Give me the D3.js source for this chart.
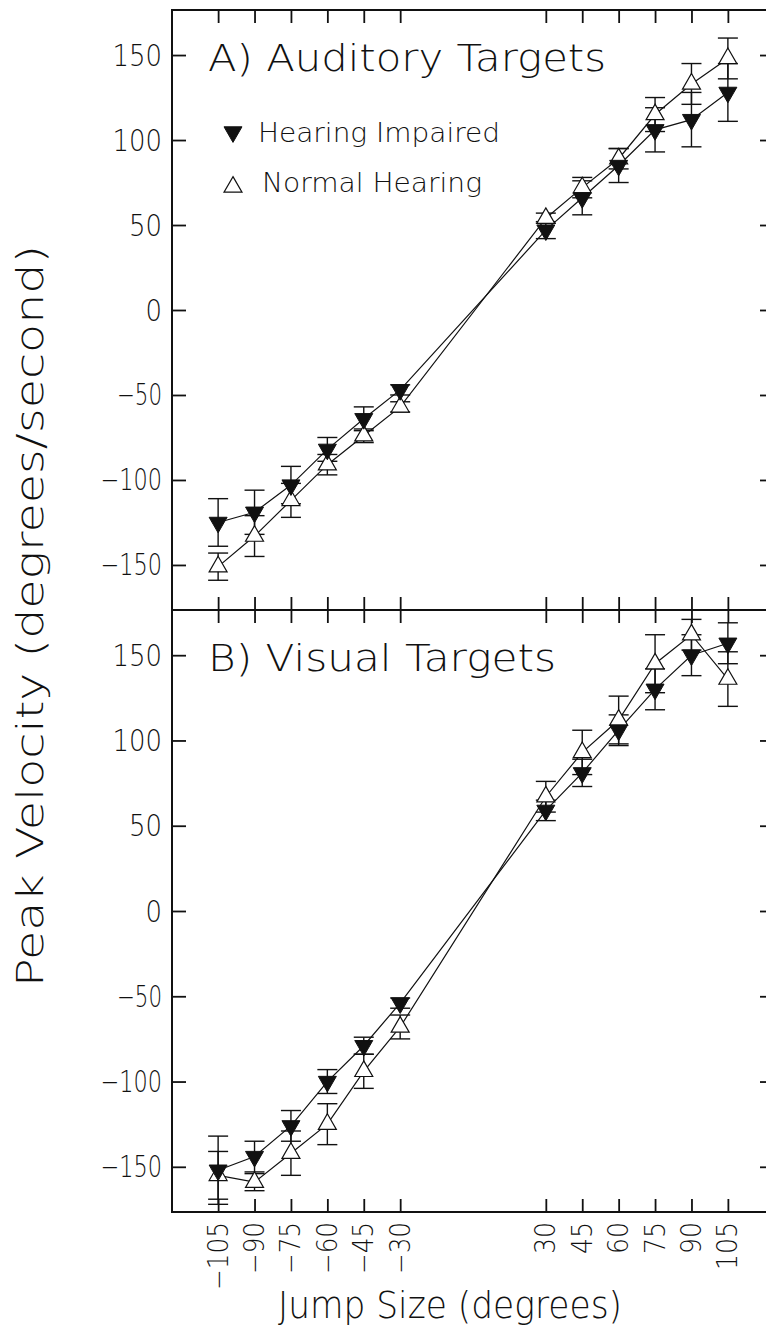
<!DOCTYPE html>
<html>
<head>
<meta charset="utf-8">
<script src="https://cdn.jsdelivr.net/npm/d3@7/dist/d3.min.js"></script>
<style>
  html, body { margin: 0; padding: 0; background: #fff; }
  svg { display: block; }
  text { font-family: "DejaVu Sans", "Liberation Sans", sans-serif; font-weight: 200; fill: #111; }
</style>
</head>
<body>
<svg id="chart" width="766" height="1335"></svg>
<script>
// Jump sizes (degrees) on the x axis
const jumps = [-105, -90, -75, -60, -45, -30, 30, 45, 60, 75, 90, 105];

// Panel A: auditory targets — mean peak velocity and standard error
const audImpaired   = [-125, -119, -103, -82, -64, -47, 47, 66, 85, 106, 112, 128];
const audImpairedSE = [14, 13, 11, 7, 7, 3, 5, 10, 10, 13, 16, 17];
const audNormal     = [-151, -133, -112, -91, -74, -57, 54, 72, 89, 115, 133, 148];
const audNormalSE   = [8, 12, 10, 6, 4, 3, 3, 6, 6, 10, 12, 12];

// Panel B: visual targets
const visImpaired   = [-152, -144, -126, -100, -79, -54, 59, 81, 106, 130, 150, 157];
const visImpairedSE = [20, 9, 9, 7, 5, 3, 6, 8, 9, 12, 12, 12];
const visNormal     = [-155, -159, -142, -125, -94, -68, 67, 93, 112, 145, 162, 136];
const visNormalSE   = [14, 5, 13, 12, 10, 7, 9, 13, 14, 17, 9, 16];

const yTicks = [-150, -100, -50, 0, 50, 100, 150];
const panelTitles = ["A) Auditory Targets", "B) Visual Targets"];
const legendLabels = ["Hearing Impaired", "Normal Hearing"];
const xTitle = "Jump Size (degrees)";
const yTitle = "Peak Velocity (degrees/second)";

const svg = d3.select("#chart");
const left = 172, right = 774;
const x = d3.scaleLinear().domain([-124, 124]).range([left, right]);

const panels = [
  { top: 10,  bottom: 610,  imp: audImpaired, impSE: audImpairedSE, nor: audNormal, norSE: audNormalSE,
    title: panelTitles[0], titleLen: 398, legend: true },
  { top: 610, bottom: 1212, imp: visImpaired, impSE: visImpairedSE, nor: visNormal, norSE: visNormalSE,
    title: panelTitles[1], titleLen: 348, legend: false }
];

const triSize = 140;
const triUp = d3.symbol().type(d3.symbolTriangle).size(triSize);
const fmt = d3.format("d");
const tickLen = 14;

// compact numeric label width: narrow digits and a shorter minus sign
const labelWidth = (s, digit, minus) =>
  s.replace("−", "").length * digit + (s.startsWith("−") ? minus : 0);

panels.forEach((p, pi) => {
  const y = d3.scaleLinear().domain([-176.5, 176.5]).range([p.bottom, p.top]);
  const g = svg.append("g");

  // frame
  g.append("rect")
    .attr("x", left).attr("y", p.top)
    .attr("width", right - left).attr("height", p.bottom - p.top)
    .attr("fill", "none").attr("stroke", "#111").attr("stroke-width", 2);

  // inward ticks: left & right (y), top & bottom (x)
  const axL = d3.axisRight(y).tickValues(yTicks).tickSize(tickLen).tickFormat("");
  const axR = d3.axisLeft(y).tickValues(yTicks).tickSize(tickLen).tickFormat("");
  const axT = d3.axisBottom(x).tickValues(jumps).tickSize(tickLen - 1).tickFormat("");
  const axB = d3.axisTop(x).tickValues(jumps).tickSize(tickLen - 1).tickFormat("");
  [[axL, `translate(${left},0)`], [axR, `translate(${right},0)`],
   [axT, `translate(0,${p.top})`], [axB, `translate(0,${p.bottom})`]].forEach(([ax, tr]) => {
    const a = g.append("g").attr("transform", tr).call(ax);
    a.select(".domain").remove();
    a.selectAll(".tick line").attr("stroke", "#111").attr("stroke-width", 1.8);
  });

  // y tick labels
  g.selectAll(".ylab").data(yTicks).join("text")
    .attr("x", left - 10).attr("y", d => y(d))
    .attr("text-anchor", "end").attr("dominant-baseline", "central")
    .attr("font-size", 30)
    .attr("textLength", d => labelWidth(fmt(d), 16.5, 12))
    .attr("lengthAdjust", "spacingAndGlyphs")
    .text(d => fmt(d));

  // panel title
  g.append("text")
    .attr("x", 208).attr("y", p.top + 61)
    .attr("font-size", 38)
    .attr("textLength", p.titleLen).attr("lengthAdjust", "spacingAndGlyphs")
    .text(p.title);

  // connecting lines
  const line = d3.line().x((d, i) => x(jumps[i])).y(d => y(d));
  [p.imp, p.nor].forEach(vals => {
    g.append("path").attr("d", line(vals))
      .attr("fill", "none").attr("stroke", "#111").attr("stroke-width", 1.2);
  });

  // error bars
  const cap = 10;
  [[p.imp, p.impSE], [p.nor, p.norSE]].forEach(([vals, se]) => {
    const eb = g.append("g").attr("stroke", "#111").attr("stroke-width", 1.4);
    vals.forEach((v, i) => {
      const cx = x(jumps[i]), y1 = y(v + se[i]), y2 = y(v - se[i]);
      eb.append("line").attr("x1", cx).attr("x2", cx).attr("y1", y1).attr("y2", y2);
      eb.append("line").attr("x1", cx - cap).attr("x2", cx + cap).attr("y1", y1).attr("y2", y1);
      eb.append("line").attr("x1", cx - cap).attr("x2", cx + cap).attr("y1", y2).attr("y2", y2);
    });
  });

  // markers: open up-triangles (normal), filled down-triangles (impaired)
  g.selectAll(".nor").data(p.nor).join("path")
    .attr("d", triUp)
    .attr("transform", (d, i) => `translate(${x(jumps[i])},${y(d)})`)
    .attr("fill", "#fff").attr("stroke", "#111").attr("stroke-width", 1.2);
  g.selectAll(".imp").data(p.imp).join("path")
    .attr("d", triUp)
    .attr("transform", (d, i) => `translate(${x(jumps[i])},${y(d)}) rotate(180)`)
    .attr("fill", "#111").attr("stroke", "#111").attr("stroke-width", 1);

  // legend
  if (p.legend) {
    g.append("path").attr("d", triUp)
      .attr("transform", "translate(233,132) rotate(180)")
      .attr("fill", "#111").attr("stroke", "#111");
    g.append("text").attr("x", 258).attr("y", 142).attr("font-size", 27)
      .attr("textLength", 242).attr("lengthAdjust", "spacingAndGlyphs")
      .text(legendLabels[0]);
    g.append("path").attr("d", triUp)
      .attr("transform", "translate(233,187)")
      .attr("fill", "none").attr("stroke", "#111").attr("stroke-width", 1.2);
    g.append("text").attr("x", 262).attr("y", 192).attr("font-size", 27)
      .attr("textLength", 220).attr("lengthAdjust", "spacingAndGlyphs")
      .text(legendLabels[1]);
  }

  // rotated x tick labels under the lower panel
  if (pi === 1) {
    g.selectAll(".xlab").data(jumps).join("text")
      .attr("transform", d => `translate(${x(d)},${p.bottom + 10}) rotate(-90)`)
      .attr("text-anchor", "end").attr("dominant-baseline", "central")
      .attr("font-size", 28)
      .attr("textLength", d => labelWidth(fmt(d), 16, 20))
      .attr("lengthAdjust", "spacingAndGlyphs")
      .text(d => fmt(d));
  }
});

// axis titles
svg.append("text")
  .attr("x", 278).attr("y", 1318)
  .attr("font-size", 38)
  .attr("textLength", 344).attr("lengthAdjust", "spacingAndGlyphs")
  .text(xTitle);

svg.append("text")
  .attr("transform", "translate(43,987) rotate(-90)")
  .attr("font-size", 38)
  .attr("textLength", 742).attr("lengthAdjust", "spacingAndGlyphs")
  .text(yTitle);
</script>
</body>
</html>
